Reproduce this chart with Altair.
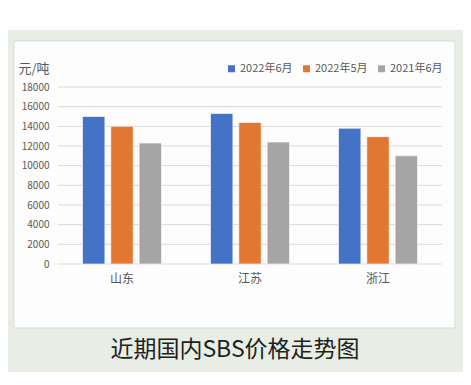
import altair as alt
import pandas as pd

regions = ["山东", "江苏", "浙江"]
series = ["2022年6月", "2022年5月", "2021年6月"]
colors = ["#4472C4", "#E07832", "#A5A5A5"]
v_2022_6 = [15000, 15300, 13800]
v_2022_5 = [14000, 14400, 12950]
v_2021_6 = [12300, 12400, 11000]
y_ticks = [0, 2000, 4000, 6000, 8000, 10000, 12000, 14000, 16000, 18000]
unit_label = "元/吨"
chart_title = "近期国内SBS价格走势图"

rows = []
for s, vals in zip(series, [v_2022_6, v_2022_5, v_2021_6]):
    for r, v in zip(regions, vals):
        rows.append({"region": r, "series": s, "value": v})
df = pd.DataFrame(rows)
grid_df = pd.DataFrame({"value": y_ticks})

FONT = "Noto Sans CJK SC"
one = pd.DataFrame({"a": [0]})
yscale = alt.Scale(domain=[0, 18000], nice=False)
yaxis = alt.Axis(values=y_ticks, title=unit_label, titleAngle=0, titleX=-40, titleY=-19,
                 titleAlign="left", titleBaseline="middle", titleFont=FONT,
                 titleFontSize=13, titleFontWeight="normal", titleColor="#595959",
                 labelFont=FONT, labelFontSize=10, labelColor="#595959",
                 labelPadding=9, labelOverlap=False, labelBound=False,
                 ticks=False, domain=False, grid=False, format="d", zindex=1)

outer = alt.Chart(one).mark_rect(color="#E8EEE6").encode(
    x=alt.value(-50), x2=alt.value(405), y=alt.value(-57), y2=alt.value(285)
)
panel = alt.Chart(one).mark_rect(color="#FDFDFD", stroke="#D9D9D9", strokeWidth=1).encode(
    x=alt.value(-44), x2=alt.value(397), y=alt.value(-46), y2=alt.value(241)
)
grid = alt.Chart(grid_df).mark_rule(color="#D9D9D9", strokeWidth=1).encode(
    y=alt.Y("value:Q", scale=yscale, axis=yaxis), x=alt.value(0), x2=alt.value(384)
)
title = alt.Chart(one).mark_text(
    text=chart_title, font=FONT, fontSize=23, color="#231F20", align="center", baseline="middle"
).encode(x=alt.value(177), y=alt.value(263))

bars = alt.Chart(df).mark_bar(stroke="white", strokeWidth=0.6).encode(
    x=alt.X("region:N", sort=regions,
            scale=alt.Scale(paddingInner=0.383, paddingOuter=0.1915),
            axis=alt.Axis(title=None, labelAngle=0, labelFont=FONT, labelFontSize=12,
                          labelColor="#595959", labelPadding=9, ticks=False,
                          domain=False, grid=False, zindex=1)),
    xOffset=alt.XOffset("series:N", sort=series,
                        scale=alt.Scale(paddingInner=0.21, paddingOuter=0)),
    y=alt.Y("value:Q", scale=yscale, axis=yaxis),
    color=alt.Color("series:N", sort=series,
                    scale=alt.Scale(domain=series, range=colors),
                    legend=alt.Legend(title=None, orient="none", legendX=168, legendY=-24,
                                      direction="horizontal", symbolType="square",
                                      symbolSize=49, symbolStrokeWidth=0, labelFont=FONT,
                                      labelFontSize=11, labelColor="#595959",
                                      labelOffset=3, columnPadding=8, zindex=1)),
)

chart = alt.layer(outer, panel, grid, bars, title).properties(
    width=384, height=177,
    autosize=alt.AutoSizeParams(type="none"),
    padding={"left": 50, "top": 79, "right": 21, "bottom": 109},
    background="white",
).configure_view(stroke=None)

chart.save("out.html", embed_options={"renderer": "svg", "actions": False})
